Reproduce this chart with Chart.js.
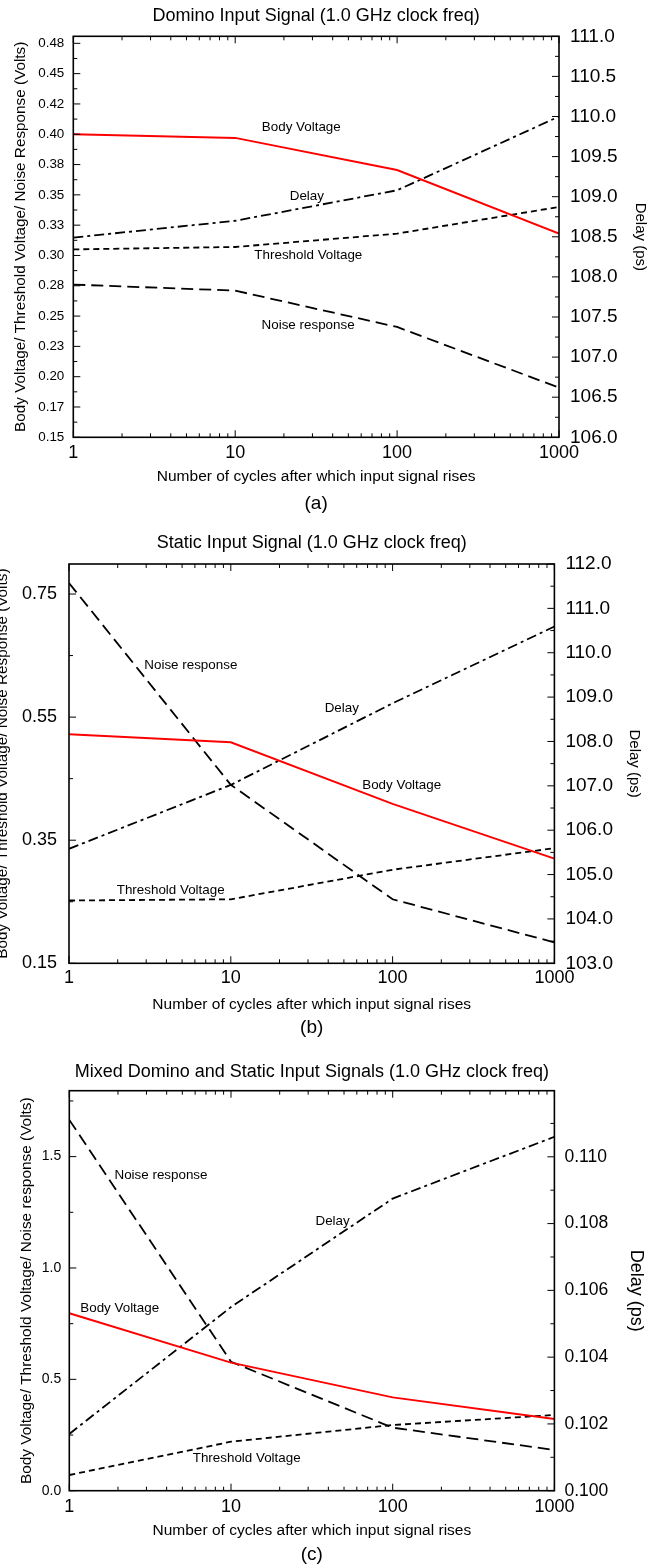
<!DOCTYPE html>
<html>
<head>
<meta charset="utf-8">
<title>Domino / Static / Mixed input signals</title>
<script src="https://cdn.jsdelivr.net/npm/chart.js@4.4.1/dist/chart.umd.min.js"></script>
<style>
  html, body { margin: 0; padding: 0; background: #fff; }
  body { width: 656px; height: 1565px; position: relative; overflow: hidden; }
  .panel { position: absolute; left: 0; width: 656px; }
  .panel canvas { display: block; }
</style>
</head>
<body>
<div class="panel" style="top:0;height:520px"><canvas id="chartA" width="656" height="520"></canvas></div>
<div class="panel" style="top:520px;height:520px"><canvas id="chartB" width="656" height="520"></canvas></div>
<div class="panel" style="top:1040px;height:525px"><canvas id="chartC" width="656" height="527"></canvas></div>
<script>
// Common x axis (log scale)
const cycles = [1, 10, 100, 1000];
const cycleTicks = [1, 10, 100, 1000];
const cycleLabels = ['1', '10', '100', '1000'];
const cycleMinorTicks = [2, 3, 4, 5, 6, 7, 8, 9, 20, 30, 40, 50, 60, 70, 80, 90,
                         200, 300, 400, 500, 600, 700, 800, 900];

// (a) Domino input signal
const bodyA = [0.400, 0.397, 0.3705, 0.318];
const thresholdA = [0.305, 0.307, 0.318, 0.340];
const noiseA = [0.276, 0.271, 0.241, 0.191];
const delayA = [108.49, 108.70, 109.08, 110.00];
const voltTicksA = [0.15, 0.175, 0.2, 0.225, 0.25, 0.275, 0.3, 0.325, 0.35, 0.375, 0.4, 0.425, 0.45, 0.475];
const voltLabelsA = ['0.15', '0.17', '0.20', '0.23', '0.25', '0.28', '0.30', '0.33', '0.35', '0.38', '0.40', '0.42', '0.45', '0.48'];
const voltMinorA = [0.1625, 0.1875, 0.2125, 0.2375, 0.2625, 0.2875, 0.3125, 0.3375, 0.3625, 0.3875, 0.4125, 0.4375, 0.4625];
const delayTicksA = [106, 106.5, 107, 107.5, 108, 108.5, 109, 109.5, 110, 110.5, 111];
const delayLabelsA = ['106.0', '106.5', '107.0', '107.5', '108.0', '108.5', '109.0', '109.5', '110.0', '110.5', '111.0'];
const delayMinorA = [106.25, 106.75, 107.25, 107.75, 108.25, 108.75, 109.25, 109.75, 110.25, 110.75];

// (b) Static input signal
const bodyB = [0.522, 0.509, 0.409, 0.320];
const thresholdB = [0.252, 0.254, 0.302, 0.337];
const noiseB = [0.768, 0.440, 0.254, 0.184];
const delayB = [105.58, 107.02, 108.86, 110.59];
const voltTicksB = [0.15, 0.35, 0.55, 0.75];
const voltLabelsB = ['0.15', '0.35', '0.55', '0.75'];
const voltMinorB = [0.25, 0.45, 0.65];
const delayTicksB = [103, 104, 105, 106, 107, 108, 109, 110, 111, 112];
const delayLabelsB = ['103.0', '104.0', '105.0', '106.0', '107.0', '108.0', '109.0', '110.0', '111.0', '112.0'];
const delayMinorB = [103.5, 104.5, 105.5, 106.5, 107.5, 108.5, 109.5, 110.5, 111.5];

// (c) Mixed domino and static input signals
const bodyC = [0.797, 0.575, 0.419, 0.322];
const thresholdC = [0.0705, 0.220, 0.295, 0.340];
const noiseC = [1.665, 0.579, 0.283, 0.183];
const delayC = [0.1017, 0.1055, 0.10875, 0.1106];
const voltTicksC = [0, 0.5, 1.0, 1.5];
const voltLabelsC = ['0.0', '0.5', '1.0', '1.5'];
const voltMinorC = [0.25, 0.75, 1.25, 1.75];
const delayTicksC = [0.100, 0.102, 0.104, 0.106, 0.108, 0.110];
const delayLabelsC = ['0.100', '0.102', '0.104', '0.106', '0.108', '0.110'];
const delayMinorC = [0.101, 0.103, 0.105, 0.107, 0.109, 0.111];

const FONT = '"Liberation Sans", Arial, Helvetica, sans-serif';
Chart.defaults.font.family = FONT;
Chart.defaults.color = '#000';

// Frame, inward ticks and the in-plot curve names
const frameTicks = {
    id: 'frameTicks',
    afterDatasetsDraw(chart, args, opts) {
        const { ctx, chartArea: a, scales } = chart;
        const line = (x1, y1, x2, y2) => {
            ctx.beginPath();
            ctx.moveTo(x1, y1);
            ctx.lineTo(x2, y2);
            ctx.stroke();
        };
        ctx.save();
        ctx.strokeStyle = '#000';
        ctx.lineWidth = 1;
        ctx.setLineDash([]);

        cycleTicks.forEach(v => {
            const px = scales.x.getPixelForValue(v);
            line(px, a.bottom, px, a.bottom - 7);
            line(px, a.top, px, a.top + 7);
        });
        cycleMinorTicks.forEach(v => {
            const px = scales.x.getPixelForValue(v);
            line(px, a.bottom, px, a.bottom - 4);
            line(px, a.top, px, a.top + 4);
        });
        opts.voltTicks.forEach(v => {
            const py = scales.y.getPixelForValue(v);
            line(a.left, py, a.left + 7, py);
        });
        opts.voltMinor.forEach(v => {
            const py = scales.y.getPixelForValue(v);
            line(a.left, py, a.left + 4, py);
        });
        opts.delayTicks.forEach(v => {
            const py = scales.y2.getPixelForValue(v);
            line(a.right, py, a.right - 7, py);
        });
        opts.delayMinor.forEach(v => {
            const py = scales.y2.getPixelForValue(v);
            line(a.right, py, a.right - 4, py);
        });

        ctx.lineWidth = 1.6;
        ctx.strokeRect(a.left, a.top, a.right - a.left, a.bottom - a.top);

        // curve names, placed in data coordinates of the left axis
        ctx.fillStyle = '#000';
        ctx.font = '13.4px ' + FONT;
        ctx.textAlign = 'center';
        ctx.textBaseline = 'middle';
        opts.notes.forEach(n => {
            ctx.fillText(n.text, scales.x.getPixelForValue(n.x), scales.y.getPixelForValue(n.y));
        });
        ctx.restore();
    }
};

// Fix axis size and list of ticks, so the plot area lands where the figure has it
function fixSize(prop, size) {
    return scale => {
        scale[prop] = size;
        scale.paddingTop = 0;
        scale.paddingBottom = 0;
        scale.paddingLeft = 0;
        scale.paddingRight = 0;
    };
}

function fixTicks(list) {
    return scale => {
        scale.ticks = list.map(v => ({ value: v }));
    };
}

function buildPanel(canvasId, p) {
    const points = vals => cycles.map((c, i) => ({ x: c, y: vals[i] }));

    return new Chart(document.getElementById(canvasId), {
        type: 'line',
        data: {
            datasets: [
                { label: 'Body Voltage', data: points(p.series.body), yAxisID: 'y',
                  borderColor: '#ff0000', borderWidth: 2 },
                { label: 'Threshold Voltage', data: points(p.series.threshold), yAxisID: 'y',
                  borderColor: '#000', borderWidth: 1.8, borderDash: [6, 4] },
                { label: 'Noise response', data: points(p.series.noise), yAxisID: 'y',
                  borderColor: '#000', borderWidth: 1.8, borderDash: [12, 6] },
                { label: 'Delay', data: points(p.series.delay), yAxisID: 'y2',
                  borderColor: '#000', borderWidth: 1.8, borderDash: [10, 4, 3, 4] }
            ]
        },
        options: {
            responsive: false,
            animation: false,
            layout: { padding: 0 },
            elements: {
                point: { radius: 0 },
                line: { tension: 0, fill: false }
            },
            plugins: {
                legend: { display: false },
                tooltip: { enabled: false },
                title: {
                    display: true,
                    text: p.title,
                    fullSize: false,
                    font: { size: 18, weight: 'normal' },
                    color: '#000',
                    padding: p.titlePad
                },
                subtitle: {
                    display: true,
                    text: p.caption,
                    position: 'bottom',
                    fullSize: false,
                    font: { size: 19, weight: 'normal' },
                    color: '#000',
                    padding: p.captionPad
                },
                frameTicks: {
                    voltTicks: p.volt.ticks, voltMinor: p.volt.minor,
                    delayTicks: p.delay.ticks, delayMinor: p.delay.minor,
                    notes: p.notes
                }
            },
            scales: {
                x: {
                    type: 'logarithmic',
                    min: 1, max: 1000,
                    grid: { display: false, drawTicks: false },
                    border: { display: false },
                    ticks: {
                        autoSkip: false, maxRotation: 0,
                        font: { size: 18 }, color: '#000', padding: p.x.pad,
                        callback: (v, i) => cycleLabels[i]
                    },
                    title: {
                        display: true,
                        text: 'Number of cycles after which input signal rises',
                        font: { size: 15.5 }, color: '#000',
                        padding: { top: 0, bottom: 0 }
                    },
                    afterBuildTicks: fixTicks(cycleTicks),
                    afterFit: fixSize('height', p.x.height)
                },
                y: {
                    type: 'linear', position: 'left',
                    min: p.volt.min, max: p.volt.max,
                    grid: { display: false, drawTicks: false },
                    border: { display: false },
                    ticks: {
                        autoSkip: false,
                        font: { size: p.volt.font }, color: '#000', padding: p.volt.pad,
                        callback: (v, i) => p.volt.labels[i]
                    },
                    title: {
                        display: true, text: p.volt.title,
                        font: { size: p.volt.titleFont }, color: '#000',
                        padding: { top: p.volt.titlePad, bottom: 0 }
                    },
                    afterBuildTicks: fixTicks(p.volt.ticks),
                    afterFit: fixSize('width', p.volt.width)
                },
                y2: {
                    type: 'linear', position: 'right',
                    min: p.delay.min, max: p.delay.max,
                    grid: { display: false, drawTicks: false },
                    border: { display: false },
                    ticks: {
                        autoSkip: false,
                        font: { size: p.delay.font }, color: '#000', padding: p.delay.pad,
                        callback: (v, i) => p.delay.labels[i]
                    },
                    title: {
                        display: true, text: 'Delay (ps)',
                        font: { size: p.delay.titleFont }, color: '#000',
                        padding: { top: p.delay.titlePad, bottom: 0 }
                    },
                    afterBuildTicks: fixTicks(p.delay.ticks),
                    afterFit: fixSize('width', p.delay.width)
                }
            }
        },
        plugins: [frameTicks]
    });
}

buildPanel('chartA', {
    title: 'Domino Input Signal (1.0 GHz clock freq)',
    titlePad: { top: 5.2, bottom: 9.5 },
    caption: '(a)',
    captionPad: { top: 6.3, bottom: 4.6 },
    series: { body: bodyA, threshold: thresholdA, noise: noiseA, delay: delayA },
    volt: { min: 0.15, max: 0.4808, ticks: voltTicksA, labels: voltLabelsA, minor: voltMinorA,
            font: 13.4, pad: 9, width: 73.3,
            title: 'Body Voltage/ Threshold Voltage/ Noise Response (Volts)', titleFont: 15.3, titlePad: 11.8 },
    delay: { min: 106, max: 111, ticks: delayTicksA, labels: delayLabelsA, minor: delayMinorA,
             font: 19, pad: 11, width: 97, titleFont: 15, titlePad: 7 },
    x: { pad: 4.9, height: 49 },
    notes: [
        { text: 'Body Voltage', x: 25.6, y: 0.406 },
        { text: 'Delay', x: 27.7, y: 0.349 },
        { text: 'Threshold Voltage', x: 28.3, y: 0.300 },
        { text: 'Noise response', x: 28.2, y: 0.2426 }
    ]
});

buildPanel('chartB', {
    title: 'Static Input Signal (1.0 GHz clock freq)',
    titlePad: { top: 12.2, bottom: 10.2 },
    caption: '(b)',
    captionPad: { top: 2.3, bottom: 0.6 },
    series: { body: bodyB, threshold: thresholdB, noise: noiseB, delay: delayB },
    volt: { min: 0.15, max: 0.7988, ticks: voltTicksB, labels: voltLabelsB, minor: voltMinorB,
            font: 18, pad: 12, width: 69,
            title: 'Body Voltage/ Threshold Voltage/ Noise Response (Volts)', titleFont: 15.3, titlePad: -6.2 },
    delay: { min: 103, max: 112, ticks: delayTicksB, labels: delayLabelsB, minor: delayMinorB,
             font: 19, pad: 11, width: 101.6, titleFont: 15, titlePad: 13 },
    x: { pad: 4.2, height: 51 },
    notes: [
        { text: 'Noise response', x: 5.66, y: 0.6335 },
        { text: 'Delay', x: 48.5, y: 0.5648 },
        { text: 'Body Voltage', x: 113.8, y: 0.4397 },
        { text: 'Threshold Voltage', x: 4.25, y: 0.269 }
    ]
});

buildPanel('chartC', {
    title: 'Mixed Domino and Static Input Signals (1.0 GHz clock freq)',
    titlePad: { top: 21.2, bottom: 7.9 },
    caption: '(c)',
    captionPad: { top: 3.3, bottom: 0.6 },
    series: { body: bodyC, threshold: thresholdC, noise: noiseC, delay: delayC },
    volt: { min: 0, max: 1.796, ticks: voltTicksC, labels: voltLabelsC, minor: voltMinorC,
            font: 14, pad: 8, width: 69.3,
            title: 'Body Voltage/ Threshold Voltage/ Noise response (Volts)', titleFont: 15.4, titlePad: 17.2 },
    delay: { min: 0.1, max: 0.11198, ticks: delayTicksC, labels: delayLabelsC, minor: delayMinorC,
             font: 17.5, pad: 10, width: 101.6, titleFont: 18, titlePad: 9.2 },
    x: { pad: 5.2, height: 49.6 },
    notes: [
        { text: 'Noise response', x: 3.69, y: 1.4176 },
        { text: 'Delay', x: 42.5, y: 1.211 },
        { text: 'Body Voltage', x: 2.05, y: 0.819 },
        { text: 'Threshold Voltage', x: 12.5, y: 0.147 }
    ]
});
</script>
</body>
</html>
